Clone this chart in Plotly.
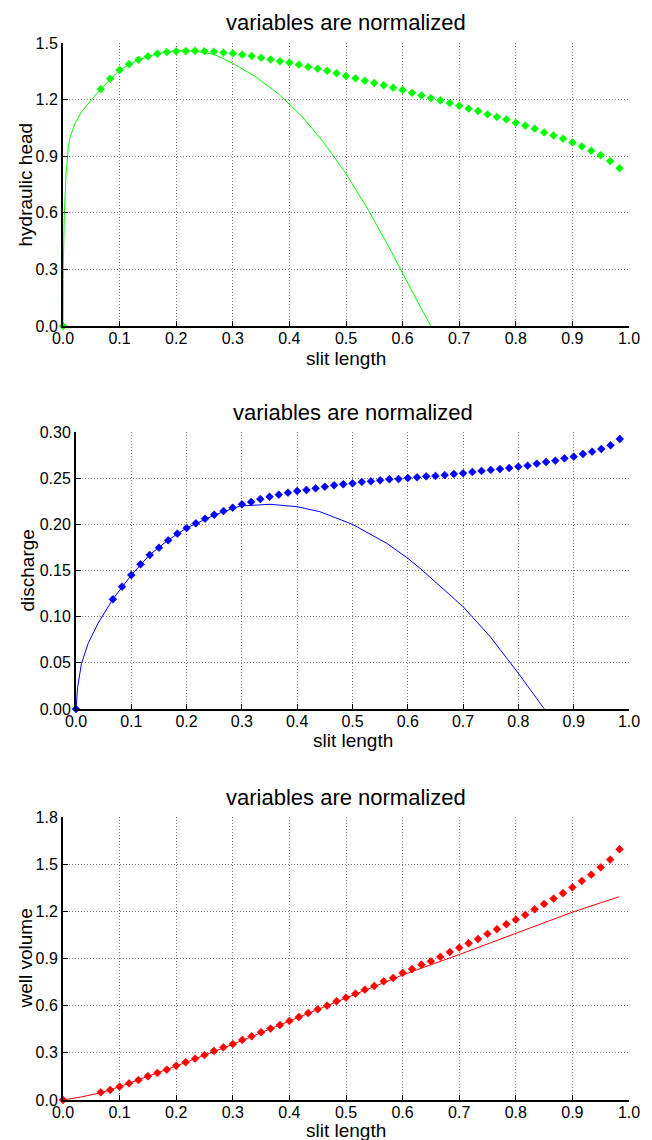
import plotly.graph_objects as go

# ---- data -------------------------------------------------------------
# sampled slit positions (normalized), shared by all three sampled series
slit_pts = [0.0, 0.0667, 0.0833, 0.1, 0.1167, 0.1333, 0.15, 0.1667, 0.1833, 0.2,
            0.2167, 0.2333, 0.25, 0.2667, 0.2833, 0.3, 0.3167, 0.3333, 0.35, 0.3667,
            0.3833, 0.4, 0.4167, 0.4333, 0.45, 0.4667, 0.4833, 0.5, 0.5167, 0.5333,
            0.55, 0.5667, 0.5833, 0.6, 0.6167, 0.6333, 0.65, 0.6667, 0.6833, 0.7,
            0.7167, 0.7333, 0.75, 0.7667, 0.7833, 0.8, 0.8167, 0.8333, 0.85, 0.8667,
            0.8833, 0.9, 0.9167, 0.9333, 0.95, 0.9667, 0.9833]

head_pts = [0.0, 1.256, 1.311, 1.357, 1.388, 1.411, 1.429, 1.443, 1.452, 1.456,
            1.457, 1.459, 1.457, 1.454, 1.449, 1.445, 1.438, 1.431, 1.422, 1.413,
            1.403, 1.396, 1.385, 1.373, 1.364, 1.353, 1.340, 1.325, 1.313, 1.300,
            1.288, 1.276, 1.263, 1.251, 1.236, 1.222, 1.208, 1.196, 1.182, 1.167,
            1.152, 1.139, 1.122, 1.108, 1.095, 1.077, 1.062, 1.046, 1.026, 1.010,
            0.993, 0.973, 0.952, 0.929, 0.905, 0.874, 0.836]

discharge_pts = [0.0, 0.1188, 0.1325, 0.1451, 0.1567, 0.1668, 0.1747, 0.1827, 0.1899, 0.1960,
                 0.2011, 0.2061, 0.2104, 0.2144, 0.2180, 0.2217, 0.2242, 0.2274, 0.2299, 0.2321,
                 0.2343, 0.2361, 0.2372, 0.2390, 0.2408, 0.2423, 0.2434, 0.2444, 0.2459, 0.2466,
                 0.2477, 0.2488, 0.2491, 0.2502, 0.2509, 0.2520, 0.2524, 0.2534, 0.2545, 0.2553,
                 0.2567, 0.2578, 0.2589, 0.2599, 0.2610, 0.2624, 0.2635, 0.2657, 0.2675, 0.2689,
                 0.2715, 0.2733, 0.2762, 0.2787, 0.2816, 0.2856, 0.2924]

volume_pts = [0.0, 0.049, 0.064, 0.085, 0.106, 0.127, 0.151, 0.172, 0.193, 0.218,
              0.240, 0.263, 0.286, 0.312, 0.335, 0.356, 0.382, 0.405, 0.431, 0.454,
              0.477, 0.503, 0.528, 0.553, 0.577, 0.600, 0.628, 0.651, 0.676, 0.702,
              0.725, 0.755, 0.776, 0.808, 0.833, 0.861, 0.882, 0.910, 0.941, 0.969,
              0.997, 1.024, 1.056, 1.086, 1.118, 1.147, 1.177, 1.213, 1.247, 1.281,
              1.315, 1.353, 1.393, 1.433, 1.480, 1.529, 1.595]

# approximate (analytic) curves
head_x = [0.0, 0.0003, 0.0006, 0.0024, 0.0053, 0.0094, 0.0124, 0.0212, 0.033, 0.0507,
          0.0667, 0.1, 0.1333, 0.1667, 0.2, 0.2333, 0.2667, 0.3, 0.34, 0.38,
          0.42, 0.46, 0.5, 0.54, 0.58, 0.62, 0.65]
head_y = [0.0, 0.2, 0.33, 0.60, 0.80, 0.95, 1.00, 1.074, 1.136, 1.20,
          1.256, 1.357, 1.411, 1.443, 1.460, 1.457, 1.440, 1.392, 1.322, 1.232,
          1.118, 0.975, 0.808, 0.612, 0.395, 0.165, 0.0]

discharge_x = [0.0, 0.003, 0.01, 0.022, 0.04, 0.0667, 0.1, 0.1333, 0.1667, 0.2,
               0.25, 0.2966, 0.351, 0.4, 0.441, 0.5, 0.562, 0.6, 0.622, 0.7,
               0.749, 0.8, 0.847]
discharge_y = [0.0, 0.024, 0.0495, 0.071, 0.093, 0.119, 0.145, 0.167, 0.183, 0.196,
               0.210, 0.2199, 0.2217, 0.2191, 0.2137, 0.2000, 0.1794, 0.1632, 0.1524, 0.1108,
               0.0783, 0.0386, 0.0]

volume_x = [0.0, 0.033, 0.0667, 0.1, 0.2, 0.3, 0.4, 0.5, 0.6, 0.7, 0.8, 0.9, 0.983]
volume_y = [0.0, 0.020, 0.046, 0.085, 0.216, 0.354, 0.502, 0.648, 0.795, 0.925, 1.058, 1.195, 1.293]

panels = [
    dict(name="hydraulic head", color="#00ff00", px=head_pts, lx=head_x, ly=head_y,
         yrange=[0, 1.5], dtick=0.3, fmt=".1f"),
    dict(name="discharge", color="#0000ff", px=discharge_pts, lx=discharge_x, ly=discharge_y,
         yrange=[0, 0.3], dtick=0.05, fmt=".2f"),
    dict(name="well volume", color="#ff0000", px=volume_pts, lx=volume_x, ly=volume_y,
         yrange=[0, 1.8], dtick=0.3, fmt=".1f"),
]

# ---- layout geometry (pixels in a 652 x 1140 page) ---------------------
W, H = 652, 1140
boxes = [  # left, right, top, bottom
    (63, 629, 43, 326),
    (76, 629, 432, 709),
    (63, 629, 817, 1100),
]
title_y = [23, 412, 797]
xlabel_y = [358, 740, 1130]
ylabel_x = [25, 27, 25]

FONT = "Liberation Sans, Arial, Helvetica, sans-serif"

fig = go.Figure()
layout = dict(width=W, height=H, autosize=False,
              margin=dict(l=0, r=0, t=0, b=0, pad=0, autoexpand=False),
              paper_bgcolor="white", plot_bgcolor="white", showlegend=False,
              font=dict(family=FONT, color="black"), annotations=[])

for i, (p, box) in enumerate(zip(panels, boxes)):
    sfx = "" if i == 0 else str(i + 1)
    xa, ya = "x" + sfx, "y" + sfx
    fig.add_trace(go.Scatter(x=p["lx"], y=p["ly"], mode="lines",
                             line=dict(color=p["color"], width=1),
                             xaxis=xa, yaxis=ya))
    fig.add_trace(go.Scatter(x=slit_pts, y=p["px"], mode="markers",
                             marker=dict(symbol="diamond", size=6, color=p["color"],
                                         line=dict(width=0.6, color=p["color"])),
                             cliponaxis=False, xaxis=xa, yaxis=ya))
    l, r, t, b = box
    common = dict(showline=True, linecolor="black", linewidth=2, mirror=False,
                  ticks="inside", ticklen=5, tickwidth=1, tickcolor="black",
                  showgrid=True, gridcolor="#7a7a7a", gridwidth=1, griddash="1px,2px",
                  zeroline=False, automargin=False,
                  tickfont=dict(size=16, family=FONT, color="black"))
    layout["xaxis" + sfx] = dict(common, domain=[l / W, r / W], range=[0, 1],
                                 dtick=0.1, tick0=0, tickformat=".1f",
                                 ticklabelstandoff=-3, anchor=ya)
    layout["yaxis" + sfx] = dict(common, domain=[1 - b / H, 1 - t / H],
                                 range=p["yrange"], dtick=p["dtick"], tick0=0,
                                 tickformat=p["fmt"], anchor=xa)
    cx = (l + r) / 2
    layout["annotations"] += [
        dict(text="variables are normalized", x=cx / W, y=1 - title_y[i] / H,
             xref="paper", yref="paper", showarrow=False, xanchor="center",
             yanchor="middle", font=dict(size=22, family=FONT, color="black")),
        dict(text="slit length", x=cx / W, y=1 - xlabel_y[i] / H,
             xref="paper", yref="paper", showarrow=False, xanchor="center",
             yanchor="middle", font=dict(size=19, family=FONT, color="black")),
        dict(text=p["name"], x=ylabel_x[i] / W, y=1 - (t + b) / 2 / H,
             xref="paper", yref="paper", showarrow=False, textangle=-90,
             xanchor="center", yanchor="middle",
             font=dict(size=19, family=FONT, color="black")),
    ]

fig.update_layout(**layout)
fig.write_html("out.html",
               post_script="document.body.style.margin='0px';"
                           "document.body.style.overflow='hidden';")
